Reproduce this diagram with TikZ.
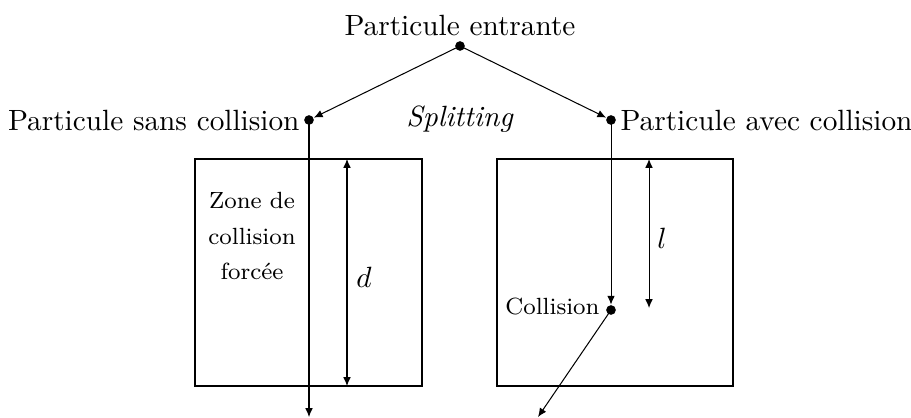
\documentclass[tikz,border=0pt]{standalone}
\usetikzlibrary{arrows.meta}
\begin{document}
\begin{tikzpicture}[x=0.3414pt,y=-0.3414pt,
  line width=0.35pt,
  arr/.style={-{Latex[length=3pt,width=2.6pt]}},
  darr/.style={{Latex[length=3pt,width=2.6pt]}-{Latex[length=3pt,width=2.6pt]}},
  dotpt/.style={circle,fill=black,inner sep=0pt,minimum size=3.3pt},
  lbl/.style={inner sep=0pt},
  zone/.style={draw,line width=0.4pt}]
\useasboundingbox (0,0) rectangle (911,418);
% points
\node[dotpt] (top) at (460,46) {};
\node[dotpt] (ls) at (309,120) {};
\node[dotpt] (ra) at (611,120) {};
\node[dotpt] (col) at (611,310) {};
\coordinate (lend) at (309,417);
\coordinate (cend) at (538,417);
% boxes
\draw[zone] (195,159) rectangle (422,386);
\draw[zone] (497,159) rectangle (733,386);
\coordinate (dtop) at (347,159);
\coordinate (dbot) at (347,386);
\coordinate (ltop) at (649,159);
\coordinate (lbot) at (649,308);
% labels
\node[lbl,anchor=base] (tpe) at (460,36) {Particule entrante};
\node[lbl,anchor=base east] (tps) at (300,131) {Particule sans collision};
\node[lbl,anchor=base west] (tpa) at (620,131) {Particule avec collision};
\node[lbl,anchor=base] (split) at (460,127) {\textit{Splitting}};
\node[lbl,align=center,font=\footnotesize,anchor=north] (zone) at (252,192) {Zone de\\[2.6pt]collision\\[2.6pt]forc\'ee};
\node[lbl,anchor=base east,font=\footnotesize] (tcol) at (600,314) {Collision};
\node[lbl] (dl) at (364,277) {$d$};
\node[lbl] (ll) at (662,238) {$l$};
% connectors
\draw[arr] (top.center) -- (ls);
\draw[arr] (top.center) -- (ra);
\draw[arr] (ls.center) -- (lend);
\draw[arr] (ra.center) -- (col);
\draw[arr] (col.center) -- (cend);
\draw[darr] (dtop) -- (dbot);
\draw[darr] (ltop) -- (lbot);
\end{tikzpicture}
\end{document}
